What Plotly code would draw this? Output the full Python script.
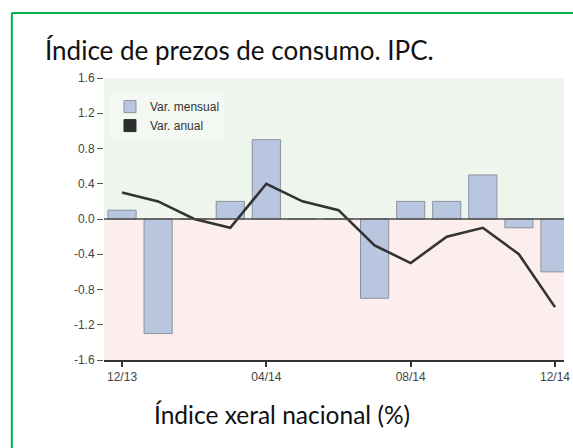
import plotly.graph_objects as go

months = ["12/13", "01/14", "02/14", "03/14", "04/14", "05/14", "06/14",
          "07/14", "08/14", "09/14", "10/14", "11/14", "12/14"]
var_mensual = [0.1, -1.3, 0.0, 0.2, 0.9, 0.0, 0.0, -0.9, 0.2, 0.2, 0.5, -0.1, -0.6]
var_anual = [0.3, 0.2, 0.0, -0.1, 0.4, 0.2, 0.1, -0.3, -0.5, -0.2, -0.1, -0.4, -1.0]
tick_idx = [0, 4, 8, 12]
tick_text = ["12/13", "04/14", "08/14", "12/14"]
y_ticks = [1.6, 1.2, 0.8, 0.4, 0.0, -0.4, -0.8, -1.2, -1.6]

x = list(range(len(months)))

fig = go.Figure()
fig.add_trace(go.Bar(
    x=x, y=var_mensual, name="Var. mensual", width=0.78,
    marker=dict(color="#b8c6df", line=dict(color="#8c929c", width=1)),
))
fig.add_trace(go.Scatter(
    x=x, y=var_anual, mode="lines", name="Var. anual", showlegend=False,
    line=dict(color="#333333", width=2.6),
))
fig.add_trace(go.Bar(
    x=[None], y=[None], name="Var. anual",
    marker=dict(color="#2e2e2e", line=dict(color="#2e2e2e", width=1)),
))

shapes = [
    dict(type="rect", xref="paper", yref="y", x0=0, x1=1, y0=0, y1=1.6,
         fillcolor="#eef5ec", line=dict(width=0), layer="below"),
    dict(type="rect", xref="paper", yref="y", x0=0, x1=1, y0=-1.6, y1=0,
         fillcolor="#fdeeee", line=dict(width=0), layer="below"),
    dict(type="line", xref="paper", yref="y", x0=0, x1=1, y0=0, y1=0,
         line=dict(color="#4a4a4a", width=1.5), layer="above"),
    dict(type="line", xref="paper", yref="paper", x0=-0.2004, x1=-0.2004,
         y0=-0.6, y1=1.2305, line=dict(color="#00b050", width=2), layer="above"),
    dict(type="line", xref="paper", yref="paper", x0=-0.2004, x1=1.5,
         y0=1.2305, y1=1.2305, line=dict(color="#00b050", width=2), layer="above"),
]

fig.update_layout(
    autosize=False,
    width=573, height=448,
    margin=dict(l=104, r=3, t=78, b=88),
    paper_bgcolor="white", plot_bgcolor="white",
    shapes=shapes,
    showlegend=True,
    legend=dict(x=0.013, y=0.95, xanchor="left", yanchor="top",
                bgcolor="#f4f8f2", font=dict(family="Arial, Liberation Sans", size=12, color="#333333"),
                tracegroupgap=0, itemwidth=30),
    annotations=[
        dict(text="Índice de prezos de consumo. IPC.", xref="paper", yref="paper",
             x=-0.133, y=1.10, xanchor="left", yanchor="middle", showarrow=False,
             font=dict(family="Lato", size=26, color="#111111")),
        dict(text="Índice xeral nacional (%)", xref="paper", yref="paper",
             x=0.386, y=-0.195, xanchor="center", yanchor="middle", showarrow=False,
             font=dict(family="Lato", size=24.5, color="#111111")),
    ],
    xaxis=dict(range=[-0.5, 12.25], tickvals=tick_idx, ticktext=tick_text,
               ticks="outside", ticklen=5, tickcolor="#333333", tickwidth=1.5,
               showline=True, linecolor="#333333", linewidth=2,
               showgrid=False, zeroline=False, ticklabeloverflow="allow",
               tickfont=dict(family="Arial, Liberation Sans", size=12, color="#444444")),
    yaxis=dict(range=[-1.6, 1.6], tickvals=y_ticks,
               ticktext=[f"{v:.1f}" for v in y_ticks],
               ticks="outside", ticklen=6, tickcolor="#555555",
               showline=False, showgrid=False, zeroline=False,
               tickfont=dict(family="Arial, Liberation Sans", size=12, color="#444444")),
    bargap=0.2,
)

fig.write_html(
    "out.html",
    config={"displayModeBar": False},
    post_script="document.body.style.margin='0';document.body.style.overflow='hidden';",
)
